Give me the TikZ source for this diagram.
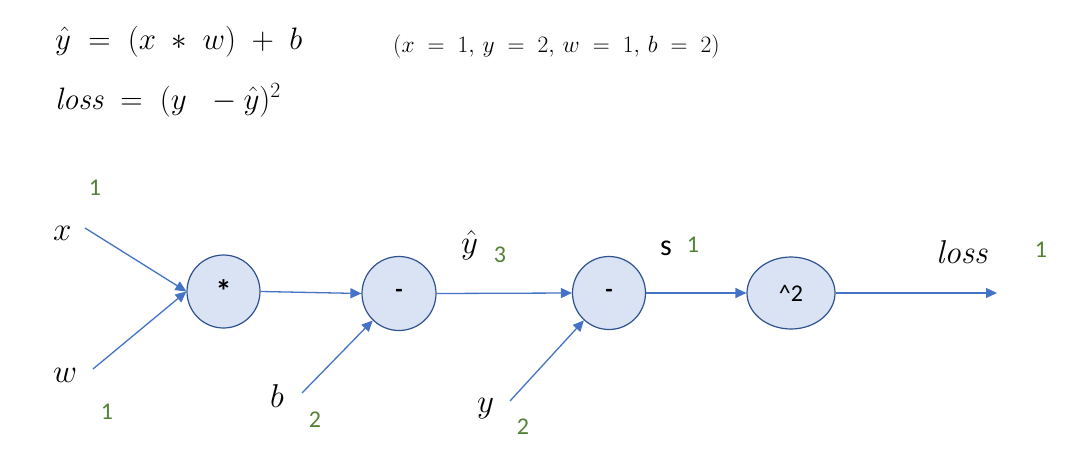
\RequirePackage{fix-cm}
\documentclass[tikz,border=0pt]{standalone}
\usepackage{fontspec}
\newfontfamily\carlitofont{Carlito}
\usetikzlibrary{arrows.meta,shapes.geometric}
\definecolor{edgeblue}{HTML}{4472C4}
\definecolor{rimblue}{HTML}{2F528F}
\definecolor{fillblue}{HTML}{DAE3F3}
\definecolor{numgreen}{HTML}{548235}
\tikzset{
  opnode/.style={circle,draw=rimblue,fill=fillblue,line width=1.2pt,minimum size=73pt,inner sep=0pt,font=\carlitofont\fontsize{24}{28}\selectfont},
  link/.style={draw=edgeblue,line width=1.3pt,-{Triangle[length=11pt,width=10pt]}},
  num/.style={text=numgreen,font=\carlitofont\fontsize{24}{28}\selectfont,inner sep=0pt},
  var/.style={font=\fontsize{33}{36}\selectfont,inner sep=0pt,anchor=base west},
  eqn/.style={font=\fontsize{31}{36}\selectfont,inner sep=0pt,anchor=base west},
}
\begin{document}
\begin{tikzpicture}[x=1pt,y=-1pt]
\useasboundingbox (0,0) rectangle (1074,458);
% equations
\node[eqn] (eq1) at (55,49) {$\hat{y} \;=\; (x \;\ast\; w) \;+\; b$};
\node[eqn] (eq2) at (55,109) {$\mathit{loss} \;=\; (y\ \ -\hat{y})^2$};
\node[inner sep=0pt,anchor=base west,font=\fontsize{23.5}{28}\selectfont] (vals) at (393,52) {$(x \;=\; 1,\, y \;=\; 2,\, w \;=\; 1,\, b \;=\; 2)$};
% operation nodes
\node[opnode] (mul) at (223.5,291.5) {\fontsize{32}{34}\selectfont\bfseries *};
\node[opnode,minimum size=74pt] (sub1) at (399,293.5) {\bfseries -};
\node[opnode] (sub2) at (609,293) {\bfseries -};
\node[opnode,ellipse,minimum width=88pt,minimum height=72pt] (sq) at (791,293) {\^{}2};
% free ends
\coordinate (x0) at (85,228);
\coordinate (w0) at (93,369);
\coordinate (b0) at (302,393);
\coordinate (y0) at (510,401);
\coordinate (lossend) at (997,293);
% connectors
\draw[link] (x0) -- (mul.west);
\draw[link] (w0) -- (mul.west);
\draw[link] (mul.east) -- (sub1.west);
\draw[link] (b0) -- (sub1);
\draw[link] (sub1.east) -- (sub2.west);
\draw[link] (y0) -- (sub2);
\draw[link] (sub2.east) -- (sq.west);
\draw[link] (sq.east) -- (lossend);
% variable labels
\node[var] (lx) at (53,240) {$x$};
\node[var] (lw) at (53,382) {$w$};
\node[var] (lb) at (270,407) {$b$};
\node[var] (ly) at (477,412) {$y$};
\node[var] (lyh) at (461,253) {$\hat{y}$};
\node[var] (lloss) at (936,263) {$\mathit{loss}$};
\node[font=\carlitofont\fontsize{30}{34}\selectfont,inner sep=0pt] (ls) at (666,248) {s};
% gradient numbers
\node[num] (nx) at (95,188) {1};
\node[num] (nw) at (107,412) {1};
\node[num] (nb) at (315,420) {2};
\node[num] (nyh) at (500,255) {3};
\node[num] (ns) at (693,245) {1};
\node[num] (ny) at (523,427) {2};
\node[num] (nloss) at (1041,250) {1};
\end{tikzpicture}
\end{document}
